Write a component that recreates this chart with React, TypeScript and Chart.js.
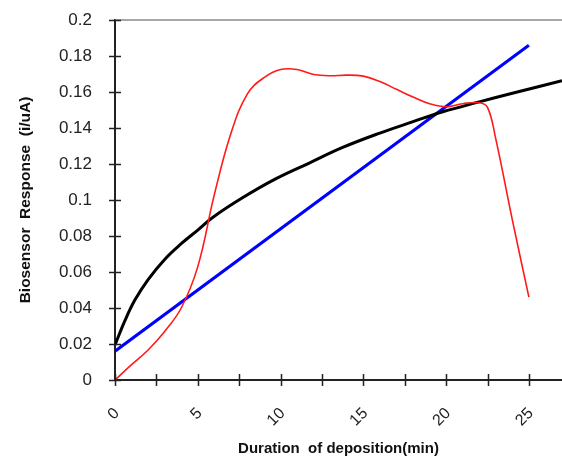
import React, { useEffect, useRef } from "react";
import { Chart, registerables } from "chart.js";

Chart.register(...registerables);

// Red curve (measured response)
const redX = [0, 1, 2, 3, 4, 5, 6, 7, 8, 9, 10, 11, 12, 13, 14, 15, 16, 17, 18, 19, 20, 21, 22, 22.5, 23, 24, 25];
const redY = [0, 0.0085, 0.0167, 0.027, 0.040, 0.063, 0.103, 0.137, 0.159, 0.168, 0.1725, 0.1725, 0.1697, 0.169, 0.1694, 0.1688, 0.1658, 0.1615, 0.1572, 0.1535, 0.1518, 0.1535, 0.154, 0.1515, 0.134, 0.089, 0.046];

// Black curve (logarithmic trend)
const blackX = [0, 0.6, 1.2, 2.0, 3.0, 4.0, 5.0, 5.9, 7.7, 9.7, 11.7, 13.75, 16.0, 18.0, 19.8, 22.0, 24.0, 27.0];
const blackY = [0.0195, 0.033, 0.0444, 0.0558, 0.067, 0.0757, 0.0833, 0.0903, 0.1012, 0.1117, 0.1204, 0.1292, 0.1372, 0.1435, 0.149, 0.1545, 0.1593, 0.1663];

// Blue line (linear trend)
const blueX = [0, 25];
const blueY = [0.016, 0.186];

const xTitle = "Duration  of deposition(min)";
const yTitle = "Biosensor  Response  (i/uA)";

const toPoints = (xs: number[], ys: number[]) => xs.map((x, i) => ({ x, y: ys[i] }));

const frameTicks = {
  id: "frameTicks",
  afterDraw(chart: any) {
    const { ctx, chartArea, scales } = chart;
    const xs = scales.x;
    const ys = scales.y;
    ctx.save();
    ctx.strokeStyle = "#8a8a8a";
    ctx.lineWidth = 1.5;
    ctx.beginPath();
    ctx.moveTo(chartArea.left, chartArea.top);
    ctx.lineTo(chartArea.right, chartArea.top);
    ctx.stroke();
    ctx.strokeStyle = "#222";
    ctx.lineWidth = 1.5;
    ctx.beginPath();
    xs.ticks.forEach((t: any) => {
      const px = Math.round(xs.getPixelForValue(t.value)) + 0.5;
      ctx.moveTo(px, chartArea.bottom - 6);
      ctx.lineTo(px, chartArea.bottom + 6);
    });
    ys.ticks.forEach((t: any) => {
      const py = Math.round(ys.getPixelForValue(t.value)) + 0.5;
      ctx.moveTo(chartArea.left - 6, py);
      ctx.lineTo(chartArea.left + 6, py);
    });
    ctx.stroke();
    ctx.restore();
  },
};

export default function App() {
  const ref = useRef<HTMLCanvasElement>(null);
  useEffect(() => {
    if (!ref.current) return;
    const padLeft = 14;
    const chart = new Chart(ref.current, {
      type: "scatter",
      data: {
        datasets: [
          {
            data: toPoints(redX, redY),
            borderColor: "#ff1a1a",
            borderWidth: 1.6,
            showLine: true,
            pointRadius: 0,
            tension: 0.4,
          },
          {
            data: toPoints(blackX, blackY),
            borderColor: "#000000",
            borderWidth: 3,
            showLine: true,
            pointRadius: 0,
            tension: 0.4,
          },
          {
            data: toPoints(blueX, blueY),
            borderColor: "#0000ff",
            borderWidth: 3,
            showLine: true,
            pointRadius: 0,
          },
        ],
      },
      options: {
        responsive: false,
        animation: false,
        devicePixelRatio: 1,
        layout: { padding: { left: padLeft, top: 20, right: 0, bottom: 0 } },
        plugins: { legend: { display: false }, tooltip: { enabled: false } },
        scales: {
          x: {
            type: "linear",
            min: 0,
            max: 27,
            grid: { display: false },
            border: { display: true, color: "#222", width: 2 },
            afterFit: (s: any) => {
              s.height = 78;
              s.paddingRight = 0;
            },
            ticks: {
              stepSize: 2.5,
              includeBounds: false,
              autoSkip: false,
              minRotation: 45,
              maxRotation: 45,
              padding: 16,
              labelOffset: 2,
              color: "#222",
              font: { family: "Liberation Sans", size: 16 },
              callback: (v: any) => (Number(v) % 5 === 0 ? String(v) : ""),
            },
            title: {
              display: true,
              text: xTitle,
              color: "#111",
              font: { family: "Liberation Sans", size: 15, weight: "bold" },
              padding: { top: 2, bottom: 0 },
            },
          },
          y: {
            type: "linear",
            min: 0,
            max: 0.2,
            grid: { display: false },
            border: { display: true, color: "#222", width: 2 },
            afterFit: (s: any) => {
              s.width = 115 - padLeft;
              s.paddingTop = 0;
              s.paddingBottom = 0;
            },
            ticks: {
              stepSize: 0.02,
              padding: 15,
              color: "#222",
              font: { family: "Liberation Sans", size: 17 },
              callback: (v: any) => String(Number(Number(v).toFixed(2))),
            },
            title: {
              display: true,
              text: yTitle,
              color: "#111",
              font: { family: "Liberation Sans", size: 15.5, weight: "bold" },
              padding: { top: 2, bottom: 2 },
            },
          },
        },
      },
      plugins: [frameTicks],
    });
    return () => chart.destroy();
  }, []);
  return (
    <div style={{ position: "absolute", left: 0, top: 0, width: 562, height: 458, background: "#fff" }}>
      <canvas ref={ref} width={562} height={458} style={{ display: "block" }} />
    </div>
  );
}
